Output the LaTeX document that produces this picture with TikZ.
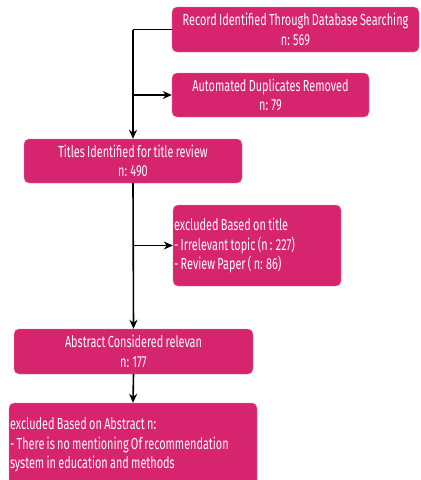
\documentclass[tikz,border=0pt]{standalone}
\usepackage{fontspec}
\usepackage{tikz}
\usetikzlibrary{arrows.meta, positioning, calc}
\newfontfamily\boxfont{Fira Sans}[FakeStretch=0.68, WordSpace=0.8]
\definecolor{flowpink}{HTML}{D6246E}
\tikzset{
    stagebox/.style={rectangle, rounded corners=5pt, fill=flowpink, draw=flowpink!60!white, line width=0.4pt,
      text=white, font=\boxfont\fontsize{16}{19.5}\selectfont, align=center, inner sep=1pt},
    notebox/.style={stagebox, align=flush left},
    flow/.style={line width=1.6pt, -{Stealth[length=9pt,width=8pt]}},
    link/.style={line width=1.6pt},
}

\begin{document}
\begin{tikzpicture}[x=1pt, y=-1pt]
    \useasboundingbox (0,0) rectangle (421,480);

    \node[stagebox, minimum width=247pt, minimum height=45pt] (rec) at (295.5,29.5)
      {Record Identified Through Database Searching\\n: 569};
    \node[stagebox, minimum width=197pt, minimum height=44pt] (dup) at (270.5,95)
      {Automated Duplicates Removed\\n: 79};
    \node[stagebox, minimum width=218pt, minimum height=44pt] (titles) at (133,161)
      {Titles Identified for title review\\n: 490};
    \node[notebox, text width=166pt, minimum height=81pt] (extitle) at (257,245.5)
      {excluded Based on title\\- Irrelevant topic (n : 227)\\- Review Paper ( n: 86)};
    \node[stagebox, minimum width=239pt, minimum height=45pt] (abs) at (133.5,351.5)
      {Abstract Considered relevan\\n: 177};
    \node[notebox, text width=246pt, minimum height=84pt] (exabs) at (133,445)
      {excluded Based on Abstract n:\\- There is no mentioning Of recommendation\\system in education and methods};

    \coordinate (split1) at (titles.north |- rec.west);
    \coordinate (split2) at (titles.north |- dup.west);
    \coordinate (split3) at (titles.south |- extitle.west);

    \draw[link] (rec.west) -- (split1);
    \draw[flow] (split1) -- (titles.north);
    \draw[flow] (split2) -- (dup.west);
    \draw[flow] (titles.south) -- (abs.north);
    \draw[flow] (split3) -- (extitle.west);
    \draw[flow] (abs.south) -- (exabs.north);
\end{tikzpicture}
\end{document}
